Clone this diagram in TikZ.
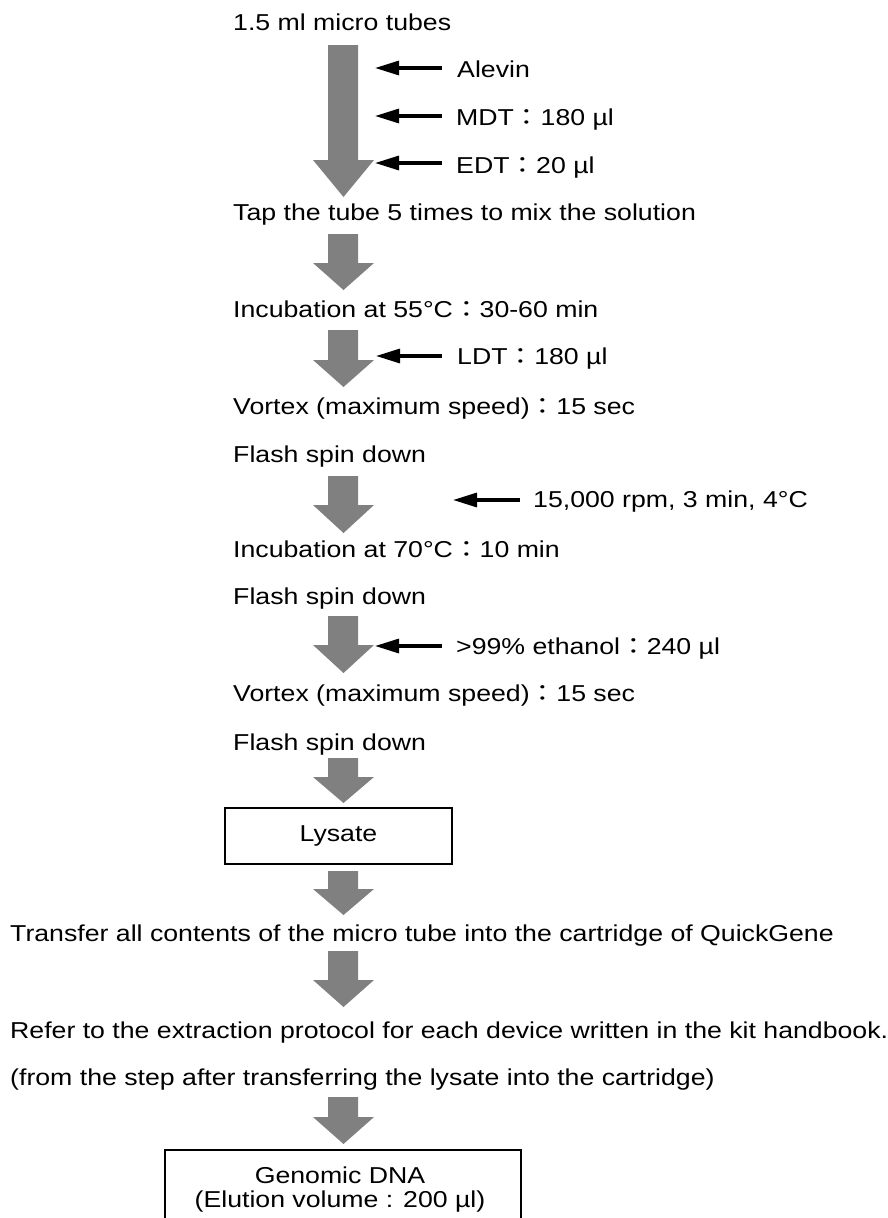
\documentclass[tikz,border=0pt]{standalone}
\usepackage{graphicx}
\usepackage{fontspec}
\setmainfont{Liberation Sans}
\newfontfamily\cjkfont{Noto Sans CJK JP}
\usetikzlibrary{arrows.meta}
\definecolor{arrowgray}{RGB}{128,128,128}
\newcommand\fc{{\cjkfont ：}}
\newcommand\sx[1]{\scalebox{1.16}[1]{#1}}
\newcommand\bigarrow[3]{\fill[arrowgray] (328,#1) -- (358,#1) -- (358,#2) -- (374,#2) -- (343.5,#3) -- (313,#2) -- (328,#2) -- cycle;}
\begin{document}
\begin{tikzpicture}[x=1pt,y=-1pt,
  txt/.style={font=\fontsize{23}{24}\selectfont, inner sep=0pt, anchor=base west},
  boxline/.style={draw=black, line width=1.6pt},
  smallarr/.style={draw=black, line width=3.2pt, -{Triangle[length=24pt,width=14pt]}}
]
\useasboundingbox (0,0) rectangle (887,1218);

% step texts
\node[txt] (tubes) at (233,30) {\sx{1.5 ml micro tubes}};
\node[txt] (tap) at (233,220) {\sx{Tap the tube 5 times to mix the solution}};
\node[txt] (inc55) at (233,317) {\sx{Incubation at 55°C\fc30-60 min}};
\node[txt] (vortexA) at (233,414) {\sx{Vortex (maximum speed)\fc15 sec}};
\node[txt] (flashA) at (233,462) {\sx{Flash spin down}};
\node[txt] (inc70) at (233,557) {\sx{Incubation at 70°C\fc10 min}};
\node[txt] (flashB) at (233,604) {\sx{Flash spin down}};
\node[txt] (vortexB) at (233,701) {\sx{Vortex (maximum speed)\fc15 sec}};
\node[txt] (flashC) at (233,750) {\sx{Flash spin down}};
\node[txt] (transfer) at (10,941) {\sx{Transfer all contents of the micro tube into the cartridge of QuickGene}};
\node[txt] (refer) at (10,1038) {\sx{Refer to the extraction protocol for each device written in the kit handbook.}};
\node[txt] (fromstep) at (10,1085) {\sx{(from the step after transferring the lysate into the cartridge)}};

% side labels
\node[txt] (alevin) at (457,77) {\sx{Alevin}};
\node[txt] (mdt) at (456,125) {\sx{MDT\fc180 µl}};
\node[txt] (edt) at (456,173) {\sx{EDT\fc20 µl}};
\node[txt] (ldt) at (457,364) {\sx{LDT\fc180 µl}};
\node[txt] (rpm) at (533,507) {\sx{15,000 rpm, 3 min, 4°C}};
\node[txt] (eth) at (456,654) {\sx{>99\% ethanol\fc240 µl}};

% boxes
\node[boxline, minimum width=227pt, minimum height=56pt, inner sep=0pt,
      font=\fontsize{23}{24}\selectfont] (lysate) at (338.5,836) {\sx{Lysate}};
\draw[boxline] (165,1230) -- (165,1150) -- (521,1150) -- (521,1230);
\node[txt, anchor=base] (dnaA) at (340,1183) {\sx{Genomic DNA}};
\node[txt, anchor=base] (dnaB) at (340,1207) {\sx{(Elution volume : 200 µl)}};

% big grey arrows
\bigarrow{45}{160}{197}
\bigarrow{234}{263}{290}
\bigarrow{330}{360}{387}
\bigarrow{476}{505}{533}
\bigarrow{616}{645}{673}
\bigarrow{758}{777}{803}
\bigarrow{871}{889}{915}
\bigarrow{951}{980}{1007}
\bigarrow{1097}{1117}{1144}

% small black arrows
\coordinate (alevinTail) at (442,68);  \coordinate (alevinTip) at (375,68);
\coordinate (mdtTail) at (442,116);    \coordinate (mdtTip) at (375,116);
\coordinate (edtTail) at (442,163);    \coordinate (edtTip) at (375,163);
\coordinate (ldtTail) at (442,356);    \coordinate (ldtTip) at (376,356);
\coordinate (rpmTail) at (520,500);    \coordinate (rpmTip) at (453,500);
\coordinate (ethTail) at (442,646);    \coordinate (ethTip) at (375,646);
\draw[smallarr] (alevinTail) -- (alevinTip);
\draw[smallarr] (mdtTail) -- (mdtTip);
\draw[smallarr] (edtTail) -- (edtTip);
\draw[smallarr] (ldtTail) -- (ldtTip);
\draw[smallarr] (rpmTail) -- (rpmTip);
\draw[smallarr] (ethTail) -- (ethTip);
\end{tikzpicture}
\end{document}
